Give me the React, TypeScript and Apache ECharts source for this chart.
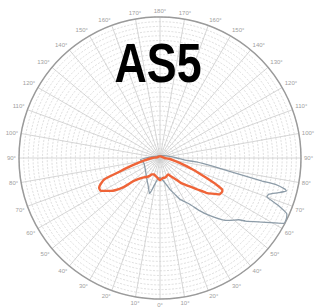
import React, { useEffect, useRef } from 'react';
import * as echarts from 'echarts';

const titleText = 'AS5';

// Angles in degrees from nadir (right side positive, left side negative)
const orangeAngles = [180, 120, 100, 90, 85, 80, 76, 73, 70.6, 68.5, 66.8, 64.8, 63.2, 62.2, 60.5, 58.5, 55.5, 53, 50.5, 48, 44, 40, 36, 30, 26, 20, 15, 9.4, 4, 0, -5, -9.7, -15, -20, -26.4, -30, -34.6, -40, -44, -48.9, -51.4, -56.3, -61, -64, -66, -69, -70.9, -74.5, -80.8, -90, -102, -140, 180];
const orangeValues = [4, 5, 7, 10, 19, 29, 43, 59, 74, 90, 107, 132, 148, 150, 150, 148, 134, 123, 107, 94, 80, 69, 55, 44, 39, 41, 43, 43, 45, 47, 44, 41, 39, 37, 39, 44, 49, 54, 60, 74, 99, 126, 144, 144, 139, 127, 96, 65, 35, 17, 7, 4, 4];

const grayAngles = [180, 120, 100, 90, 85, 83.8, 81.1, 79.2, 78.1, 77.3, 77.1, 76, 75.4, 73.7, 71.6, 70, 69.1, 68.1, 66.2, 64.6, 62.2, 61.2, 57.8, 53.6, 51.9, 47.9, 45.3, 40.6, 36.9, 32.7, 25.6, 22.2, 17.5, 11.3, 0, -5.4, -10.9, -14, -16.3, -23.2, -34, -51, -73, -85, -95.7, -120, 180];
const grayValues = [5, 10, 21, 36, 53, 78, 113, 149, 186, 223, 252, 274, 278, 263, 244, 242, 255, 272, 295, 298, 298, 288, 256, 226, 213, 198, 187, 161, 140, 117, 97, 83, 70, 54, 42, 44, 56, 69, 79, 64, 51, 40, 36, 42, 21, 8, 5];

const radiusMax = 300;
const radiusStep = 10;
const angleStep = 10;

const toPolar = (angles: number[], values: number[]) =>
  angles.map((a, i) => [values[i], (a + 360) % 360]);

export default function App() {
  const ref = useRef<HTMLDivElement>(null);
  useEffect(() => {
    if (!ref.current) return;
    const chart = echarts.init(ref.current, null, { renderer: 'svg' });
    chart.setOption({
      animation: false,
      backgroundColor: '#ffffff',
      graphic: [
        {
          type: 'text',
          x: 158,
          y: 63,
          scaleX: 0.8,
          z: 10,
          style: {
            text: titleText,
            fill: '#000000',
            font: "bold 56px 'Liberation Sans', Arial, sans-serif",
            textAlign: 'center',
            textVerticalAlign: 'middle',
          },
        },
      ],
      polar: { center: [160, 158], radius: 141 },
      angleAxis: {
        type: 'value',
        min: 0,
        max: 360,
        interval: angleStep,
        startAngle: 270,
        clockwise: false,
        axisLine: { lineStyle: { color: '#9a9a9a', width: 1.5 } },
        axisTick: { show: false },
        axisLabel: {
          color: '#a0a0a0',
          fontSize: 6,
          margin: 3,
          formatter: (v: number) => (v >= 360 ? '' : (v > 180 ? 360 - v : v) + '°'),
        },
        splitLine: { show: true, lineStyle: { color: '#cccccc', width: 0.8 } },
      },
      radiusAxis: {
        type: 'value',
        min: 0,
        max: radiusMax,
        interval: radiusStep,
        axisLine: { show: false },
        axisTick: { show: false },
        axisLabel: { show: false },
        splitLine: { show: true, lineStyle: { color: '#d0d0d0', width: 0.7, type: [2, 1.5] } },
      },
      series: [
        {
          type: 'line',
          coordinateSystem: 'polar',
          data: toPolar(grayAngles, grayValues),
          showSymbol: false,
          smooth: 0.15,
          lineStyle: { color: '#8d9ca8', width: 1.3 },
          z: 3,
        },
        {
          type: 'line',
          coordinateSystem: 'polar',
          data: toPolar(orangeAngles, orangeValues),
          showSymbol: false,
          smooth: 0.2,
          lineStyle: { color: '#ef6438', width: 2.4 },
          z: 4,
        },
      ],
    });
    return () => chart.dispose();
  }, []);
  return <div ref={ref} style={{ position: 'fixed', left: 0, top: 0, width: 318, height: 307 }} />;
}
